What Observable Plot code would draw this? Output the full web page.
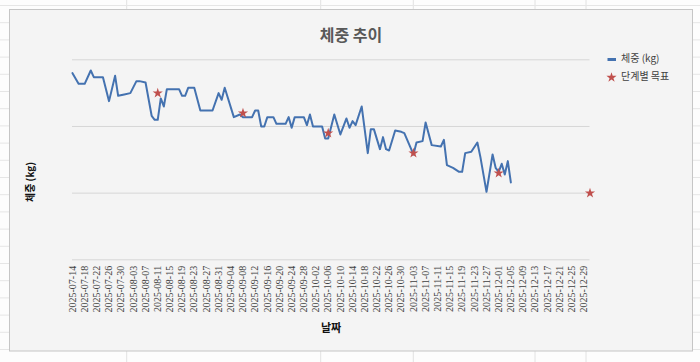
<!DOCTYPE html>
<html><head><meta charset="utf-8">
<script src="https://cdn.jsdelivr.net/npm/d3@7"></script>
<script src="https://cdn.jsdelivr.net/npm/@observablehq/plot@0.6"></script>
<style>
html,body{margin:0;padding:0;background:#fdfdfd;}
#chart{width:700px;height:362px;}
</style>
</head><body>
<div id="chart"></div>
<script>
// 체중 (kg) series
const weightDates = [
  "2025-07-14","2025-07-16","2025-07-18","2025-07-20","2025-07-21","2025-07-24","2025-07-26","2025-07-28","2025-07-29","2025-07-31",
  "2025-08-02","2025-08-04","2025-08-05","2025-08-07","2025-08-09","2025-08-10","2025-08-11","2025-08-12","2025-08-13","2025-08-14",
  "2025-08-18","2025-08-19","2025-08-20","2025-08-21","2025-08-23","2025-08-25","2025-08-29","2025-08-31","2025-09-01","2025-09-02",
  "2025-09-05","2025-09-07","2025-09-08","2025-09-11","2025-09-12","2025-09-13","2025-09-14","2025-09-15","2025-09-16","2025-09-18",
  "2025-09-19","2025-09-22","2025-09-23","2025-09-24","2025-09-25","2025-09-28","2025-09-29","2025-09-30","2025-10-01","2025-10-04",
  "2025-10-05","2025-10-06","2025-10-08","2025-10-10","2025-10-12","2025-10-13","2025-10-14","2025-10-15","2025-10-17","2025-10-19",
  "2025-10-20","2025-10-21","2025-10-23","2025-10-24","2025-10-25","2025-10-26","2025-10-28","2025-10-30","2025-10-31","2025-11-03",
  "2025-11-04","2025-11-06","2025-11-07","2025-11-09","2025-11-12","2025-11-13","2025-11-14","2025-11-16","2025-11-18","2025-11-19",
  "2025-11-20","2025-11-22","2025-11-24","2025-11-25","2025-11-27","2025-11-29","2025-11-30","2025-12-01","2025-12-02","2025-12-03",
  "2025-12-04","2025-12-05"
];
const weightValues = [
  84.0,83.2,83.2,84.2,83.7,83.7,81.9,83.8,82.3,82.4,
  82.5,83.4,83.4,83.3,80.8,80.5,80.5,82.1,81.5,82.8,
  82.8,82.3,82.3,82.9,82.9,81.2,81.2,82.5,82.0,82.9,
  80.7,80.9,80.7,80.7,81.2,81.2,80.0,80.0,80.7,80.7,
  80.2,80.2,80.7,79.9,80.7,80.7,80.1,80.9,80.0,80.0,
  79.1,79.1,80.9,79.4,80.6,79.9,80.4,80.1,81.5,78.0,
  79.8,79.8,78.3,79.2,78.3,78.2,79.7,79.6,79.5,77.9,
  78.8,78.9,80.3,78.6,78.5,79.0,77.1,76.9,76.6,76.6,
  78.0,78.1,78.8,77.7,75.1,77.9,76.9,76.6,77.2,76.4,
  77.4,75.8
];
// 단계별 목표 series
const goalDates = ["2025-08-11","2025-09-08","2025-10-06","2025-11-03","2025-12-01","2025-12-31"];
const goalValues = [82.5, 81.0, 79.5, 78.0, 76.5, 75.0];
// category tick labels (every 4 days)
const xTickLabels = [
  "2025-07-14","2025-07-18","2025-07-22","2025-07-26","2025-07-30","2025-08-03","2025-08-07","2025-08-11","2025-08-15",
  "2025-08-19","2025-08-23","2025-08-27","2025-08-31","2025-09-04","2025-09-08","2025-09-12","2025-09-16","2025-09-20",
  "2025-09-24","2025-09-28","2025-10-02","2025-10-06","2025-10-10","2025-10-14","2025-10-18","2025-10-22","2025-10-26",
  "2025-10-30","2025-11-03","2025-11-07","2025-11-11","2025-11-15","2025-11-19","2025-11-23","2025-11-27","2025-12-01",
  "2025-12-05","2025-12-09","2025-12-13","2025-12-17","2025-12-21","2025-12-25","2025-12-29"
];
const xDomain = ["2025-07-14", "2025-12-31"];
const yGridValues = [70, 75, 80, 85];

const parse = d3.utcParse("%Y-%m-%d");
const weights = weightDates.map((d, i) => ({date: parse(d), kg: weightValues[i]}));
const goals = goalDates.map((d, i) => ({date: parse(d), kg: goalValues[i]}));

const SERIF = "'Liberation Serif', 'DejaVu Serif', serif";
const plot = Plot.plot({
  width: 700, height: 362,
  marginLeft: 72, marginRight: 110.5, marginTop: 59.3, marginBottom: 102.7,
  style: {background: "transparent", fontSize: "10px", color: "#404040", overflow: "visible"},
  x: {type: "utc", domain: xDomain.map(parse)},
  y: {domain: [70, 85], axis: null},
  marks: [
    Plot.ruleY(yGridValues, {stroke: "#d6d6d6", strokeWidth: 1}),
    Plot.axisX({ticks: xTickLabels.map(parse), tickFormat: d3.utcFormat("%Y-%m-%d"), tickRotate: -90, tickSize: 0, tickPadding: 6, label: null, fontSize: 10, fontFamily: SERIF, fill: "#404040"}),
    Plot.line(weights, {x: "date", y: "kg", stroke: "#4472b0", strokeWidth: 2, strokeLinejoin: "round"}),
    Plot.dot(goals, {x: "date", y: "kg", symbol: "star", fill: "#c0504d", stroke: "none", r: 3.2})
  ]
});

const svg = d3.select(plot);
svg.selectAll("g[aria-label='x-axis tick label']").attr("font-family", SERIF)
  .selectAll("text").attr("font-family", SERIF);
// spreadsheet background + chart box
const deco = svg.insert("g", ":first-child");
[126.7, 320.7, 413.3, 535, 586].forEach(x => deco.append("line").attr("x1", x).attr("x2", x).attr("y1", 0).attr("y2", 362).attr("stroke", "#e2e2e2"));
for (let y = 5.5; y < 362; y += 17.2) deco.append("line").attr("x1", 0).attr("x2", 700).attr("y1", y).attr("y2", y).attr("stroke", "#e6e6e6");
deco.append("rect").attr("x", 9.5).attr("y", 9.5).attr("width", 683).attr("height", 341.5).attr("fill", "#f4f4f4").attr("stroke", "#c6c6c6");

const KR = "'Noto Sans CJK KR', 'Noto Sans', sans-serif";
svg.append("text").text("체중 추이").attr("x", 351).attr("y", 41).attr("text-anchor", "middle")
  .attr("font-family", KR).attr("font-weight", "bold").attr("font-size", 16).attr("fill", "#595959");
svg.append("text").text("체중 (kg)").attr("transform", "translate(34,182) rotate(-90)").attr("text-anchor", "middle")
  .attr("font-family", KR).attr("font-weight", "bold").attr("font-size", 10).attr("fill", "#111");
svg.append("text").text("날짜").attr("x", 331).attr("y", 329).attr("text-anchor", "middle").attr("dominant-baseline", "middle")
  .attr("font-family", KR).attr("font-weight", "bold").attr("font-size", 11).attr("fill", "#111");
// legend
const lg = svg.append("g").attr("font-family", KR).attr("font-size", 10).attr("fill", "#404040").attr("text-anchor", "start");
lg.append("line").attr("x1", 607.5).attr("x2", 616).attr("y1", 59.5).attr("y2", 59.5).attr("stroke", "#4472b0").attr("stroke-width", 3);
lg.append("text").text("체중 (kg)").attr("x", 621).attr("y", 59.5).attr("dominant-baseline", "middle").attr("text-anchor", "start");
lg.append("path").attr("d", d3.symbol(d3.symbolStar, Math.PI * 3.2 * 3.2)()).attr("transform", "translate(611.5,77.5)").attr("fill", "#c0504d");
lg.append("text").text("단계별 목표").attr("x", 621).attr("y", 77.5).attr("dominant-baseline", "middle").attr("text-anchor", "start");

document.getElementById("chart").appendChild(plot);
</script>
</body></html>
